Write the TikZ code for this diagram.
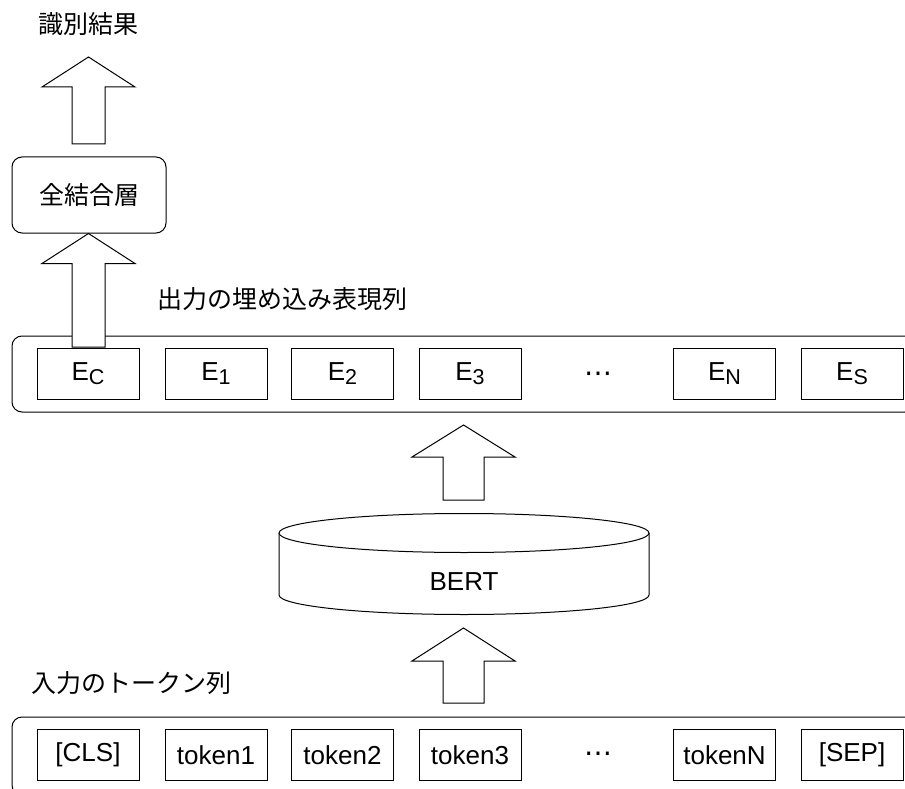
\documentclass[tikz,border=0pt]{standalone}
\usepackage{fontspec}
\setmainfont{Liberation Sans}
\newfontfamily\jpfont{Noto Sans CJK JP}
\newfontfamily\symfont{DejaVu Sans}
\usetikzlibrary{calc}

% embedding label with a lowered, smaller subscript
\newcommand\emb[1]{E\raisebox{-4.5pt}{\fontsize{21.5}{22}\selectfont #1}}

% upward block arrow: #1 bottom, #2 tip, #3 half shaft, #4 half head, #5 head length
\newcommand\blockup[5]{%
  \draw[blockarrow] let \p1=(#1), \p2=(#2) in
    (\x1-#3,\y1) -- (\x1-#3,\y2-#5) -- (\x1-#4,\y2-#5) -- (\x1,\y2)
    -- (\x1+#4,\y2-#5) -- (\x1+#3,\y2-#5) -- (\x1+#3,\y1) -- cycle;}

\begin{document}
\begin{tikzpicture}[x=1pt,y=-1pt,line width=1pt,
  txt/.style={font=\fontsize{26}{30}\selectfont, inner sep=0pt},
  jptxt/.style={font=\jpfont\fontsize{25}{30}\selectfont, inner sep=0pt},
  cell/.style={draw, minimum width=102pt, minimum height=51pt, inner sep=0pt,
    font=\fontsize{26}{30}\selectfont},
  rowbox/.style={draw, rounded corners=10pt, minimum width=903pt, inner sep=0pt},
  blockarrow/.style={draw, fill=white, line join=miter},
  dots/.style={font=\symfont\fontsize{28}{30}\selectfont, inner sep=0pt}]

\useasboundingbox (0,0) rectangle (905,789);
\clip (0,0) rectangle (905,789);

% labels
\node[jptxt] (result) at (88,24) {識別結果};
\node[draw, rounded corners=10pt, minimum width=154pt, minimum height=76pt,
  inner sep=0pt, font=\jpfont\fontsize{25}{30}\selectfont] (fc) at (89,195) {全結合層};
\node[jptxt] (outlabel) at (282,299) {出力の埋め込み表現列};
\node[jptxt] (inlabel) at (131,683) {入力のトークン列};

% output embedding row
\node[rowbox, minimum height=76pt] (outrow) at (463.5,374) {};
\node[cell] (ec) at (88,373.5) {\emb{C}};
\node[cell] (e1) at (216,373.5) {\emb{1}};
\node[cell] (e2) at (342.5,373.5) {\emb{2}};
\node[cell] (e3) at (470,373.5) {\emb{3}};
\node[dots] (edots) at (598,377) {⋯};
\node[cell] (en) at (724.5,373.5) {\emb{N}};
\node[cell] (es) at (852,373.5) {\emb{S}};

% input token row
\node[rowbox, minimum height=78pt] (inrow) at (463.5,756) {};
\node[cell] (tcls) at (88,755) {[CLS]};
\node[cell] (t1) at (216,755) {token1};
\node[cell] (t2) at (342.5,755) {token2};
\node[cell] (t3) at (470,755) {token3};
\node[dots] (tdots) at (598,757) {⋯};
\node[cell] (tn) at (724.5,755) {tokenN};
\node[cell] (tsep) at (852,755) {[SEP]};

% BERT cylinder
\draw[fill=white] (279,533) -- (279,595)
  arc[start angle=180, end angle=360, x radius=185pt, y radius=19.5pt]
  -- (649,533);
\draw[fill=white] (464,533) ellipse [x radius=185pt, y radius=19.5pt];
\node[txt] (bert) at (464,582) {BERT};

% arrow end points
\coordinate (a1s) at (88.5,144);
\coordinate (a1t) at (88.5,57);
\coordinate (a2s) at (88.5,347);
\coordinate (a3s) at (463.5,500);
\coordinate (a3t) at (463.5,425);
\coordinate (a4s) at (463.5,703);
\coordinate (a4t) at (463.5,628);

\blockup{a1s}{a1t}{16.5pt}{46.5pt}{30pt}
\blockup{a2s}{fc.south}{16.5pt}{46.5pt}{30pt}
\blockup{a3s}{a3t}{20.5pt}{51.5pt}{32pt}
\blockup{a4s}{a4t}{20.5pt}{51.5pt}{33pt}
\end{tikzpicture}
\end{document}
